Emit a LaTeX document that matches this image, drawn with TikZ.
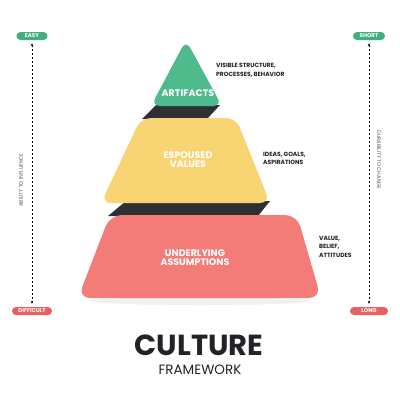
\documentclass[tikz,border=0pt]{standalone}
\usepackage{fontspec}
\setmainfont{Poppins}
\usepackage{xcolor}
\usetikzlibrary{arrows.meta}

\definecolor{artgreen}{HTML}{4FBA8C}
\definecolor{valyellow}{HTML}{F8D472}
\definecolor{assred}{HTML}{F47C78}
\definecolor{bandgray}{HTML}{2E3033}
\definecolor{pillgreen}{HTML}{41AF7F}
\definecolor{pillred}{HTML}{E8615F}
\definecolor{inkgray}{HTML}{222326}

\begin{document}
\begin{tikzpicture}[x=1pt, y=-1pt,
    pill/.style = {rounded corners=4pt, inner sep=0pt, minimum height=8pt, text=white, font=\bfseries\fontsize{5.5}{6}\selectfont},
    desc/.style = {anchor=west, align=left, inner sep=0pt, text=inkgray, font=\bfseries\fontsize{6}{8.5}\selectfont},
    level/.style = {align=center, inner sep=0pt, text=white, font=\bfseries\fontsize{9.5}{9}\selectfont},
    sidetext/.style = {inner sep=0pt, text=inkgray!75, font=\fontsize{5.2}{5.5}\selectfont},
    axis/.style = {dashed, dash pattern=on 2pt off 2pt, line width=0.5pt, {Stealth[length=3pt,width=2.5pt]}-{Stealth[length=3pt,width=2.5pt]}, shorten <=3pt, shorten >=3pt}]
      \useasboundingbox (0, 0) rectangle (400, 400);
      \fill[white] (0, 0) rectangle (400, 400);

      % shadow under the base
      \fill[gray!12] (200, 301) ellipse [x radius = 110, y radius = 4];

      % dark bands
      \fill[bandgray] (156, 105) -- (220, 105) -- (207, 119) -- (142, 119) -- cycle;
      \fill[bandgray] (126, 201) -- (270, 201) -- (258, 216) -- (108, 216) -- cycle;

      % levels
      \fill[assred, rounded corners = 12pt] (110, 215) -- (297, 215) -- (321, 298) -- (78, 298) -- cycle;
      \fill[valyellow, rounded corners = 10pt] (141, 118) -- (236, 118) -- (270, 203) -- (101, 203) -- cycle;
      \fill[artgreen, rounded corners = 9pt] (186, 40) -- (222, 106) -- (151, 106) -- cycle;

      \node [level] (artifacts) at (188, 93) {ARTIFACTS};
      \node [level] (espoused) at (188, 159.5) {ESPOUSED\\VALUES};
      \node [level] (underlying) at (195, 257.5) {UNDERLYING\\ASSUMPTIONS};

      \node [desc] (visible) at (216, 70) {VISIBLE STRUCTURE,\\PROCESSES, BEHAVIOR};
      \node [desc] (ideas) at (263, 158.5) {IDEAS, GOALS,\\ASPIRATIONS};
      \node [desc] (beliefs) at (319, 246.5) {VALUE,\\BELIEF,\\ATTITUDES};

      % side scales
      \node [pill, fill = pillgreen, minimum width = 31pt] (easy) at (32, 36) {EASY};
      \node [pill, fill = pillred, minimum width = 40pt] (difficult) at (32, 311) {DIFFICULT};
      \node [pill, fill = pillgreen, minimum width = 32pt] (short) at (369, 36) {SHORT};
      \node [pill, fill = pillred, minimum width = 38pt] (long) at (369, 311) {LONG};
      \draw [axis] (easy) -- (difficult);
      \draw [axis] (short) -- (long);
      \node [sidetext, rotate = 90] (influence) at (21, 180) {ABILITY TO INFLUENCE};
      \node [sidetext, rotate = -90] (durability) at (379, 160) {DURABILITY TO CHANGE};

      % title
      \node [inner sep = 0pt, text = inkgray, font = \bfseries\fontsize{29}{30}\selectfont] (culture) at (199, 345) {CULTURE};
      \node [inner sep = 0pt, text = inkgray, font = \fontsize{13.5}{14}\selectfont] (framework) at (200, 370) {FRAMEWORK};
    \end{tikzpicture}
\end{document}
